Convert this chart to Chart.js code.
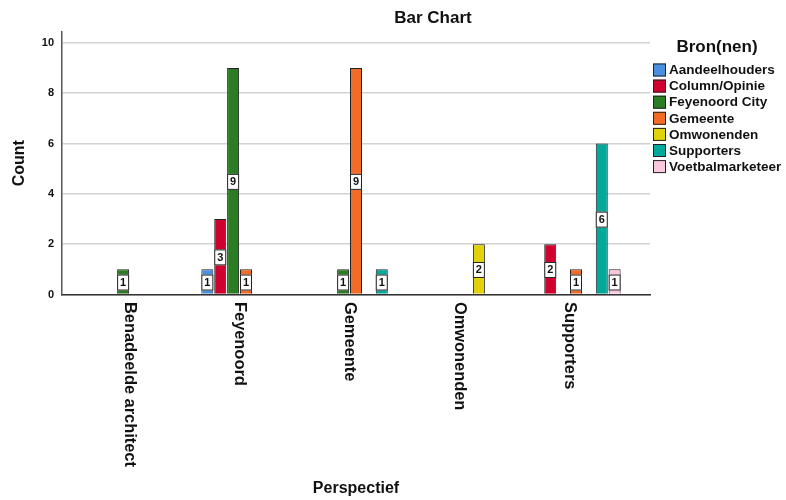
<!DOCTYPE html>
<html>
<head>
<meta charset="utf-8">
<script src="https://cdn.jsdelivr.net/npm/chart.js@4.4.1/dist/chart.umd.min.js"></script>
<style>
  html, body { margin: 0; padding: 0; background: #fff; }
  #wrap { width: 786px; height: 500px; }
</style>
</head>
<body>
<div id="wrap"><canvas id="chart" width="786" height="500"></canvas></div>
<script>
const categories = ["Benadeelde architect", "Feyenoord", "Gemeente", "Omwonenden", "Supporters"];
const seriesNames = ["Aandeelhouders", "Column/Opinie", "Feyenoord City", "Gemeente", "Omwonenden", "Supporters", "Voetbalmarketeer"];

// counts per perspectief, null = no bar
const aandeelhouders = [null, 1, null, null, null];
const columnOpinie = [null, 3, null, null, 2];
const feyenoordCity = [1, 9, 1, null, null];
const gemeente = [null, 1, 9, null, 1];
const omwonenden = [null, null, null, 2, null];
const supporters = [null, null, 1, null, 6];
const voetbalmarketeer = [null, null, null, null, 1];

const seriesValues = [aandeelhouders, columnOpinie, feyenoordCity, gemeente, omwonenden, supporters, voetbalmarketeer];
const seriesColors = ["#4A90E2", "#D0002F", "#2A7D22", "#F26B27", "#E2D20C", "#00A99C", "#FBC6DE"];
const yTicks = [0, 2, 4, 6, 8, 10];

const FONT = "'Liberation Sans', Arial, sans-serif";
const canvas = document.getElementById("chart");
const ctx = canvas.getContext("2d");

const datasets = seriesNames.map((naam, s) => ({
  label: naam,
  data: seriesValues[s].map((v, i) => ({ x: i, y: v })),
  backgroundColor: seriesColors[s],
  borderColor: "#222",
  borderWidth: 1,
  categoryPercentage: 0.82,
  barPercentage: 0.93,
}));

// waarde labels, titel, as labels en legenda
const extraTekst = {
  id: "extraTekst",
  afterDatasetsDraw(chart) {
    const c = chart.ctx;
    c.save();
    chart.data.datasets.forEach((ds, d) => {
      const meta = chart.getDatasetMeta(d);
      meta.data.forEach((bar, i) => {
        const v = ds.data[i].y;
        if (v === null) return;
        const w = bar.width;
        const h = 16;
        const cy = (bar.y + bar.base) / 2 + 1;
        c.fillStyle = "#fff";
        c.strokeStyle = "#222";
        c.lineWidth = 1;
        c.fillRect(bar.x - w / 2, cy - h / 2, w, h);
        c.strokeRect(bar.x - w / 2 + 0.5, cy - h / 2 + 0.5, w - 1, h - 1);
        c.fillStyle = "#111";
        c.font = "bold 11px " + FONT;
        c.textAlign = "center";
        c.textBaseline = "middle";
        c.fillText(String(v), bar.x, cy + 0.5);
      });
    });
    c.restore();
  },
  afterDraw(chart) {
    const c = chart.ctx;
    const xs = chart.scales.x;
    c.save();
    c.fillStyle = "#111";

    c.font = "bold 17px " + FONT;
    c.textAlign = "center";
    c.textBaseline = "middle";
    c.fillText("Bar Chart", 433, 18);

    // x labels, van boven naar beneden
    c.font = "bold 16.4px " + FONT;
    categories.forEach((cat, i) => {
      const px = xs.getPixelForValue(i);
      c.save();
      c.translate(px - 6, 302);
      c.rotate(Math.PI / 2);
      c.textAlign = "left";
      c.textBaseline = "middle";
      c.fillText(cat, 0, 0);
      c.restore();
    });

    // legenda
    c.font = "bold 17px " + FONT;
    c.textAlign = "center";
    c.textBaseline = "middle";
    c.fillText("Bron(nen)", 717, 47);
    c.font = "bold 13.5px " + FONT;
    c.textAlign = "left";
    seriesNames.forEach((naam, s) => {
      const y = 70 + s * 16.1;
      c.fillStyle = seriesColors[s];
      c.fillRect(653, y - 6.5, 13, 13);
      c.strokeStyle = "#222";
      c.lineWidth = 1;
      c.strokeRect(653.5, y - 6, 12, 12);
      c.fillStyle = "#111";
      c.fillText(naam, 669, y + 0.5);
    });
    c.restore();
  },
};

const chart = new Chart(ctx, {
  type: "bar",
  data: { datasets: datasets },
  options: {
    responsive: false,
    animation: false,
    layout: { padding: { top: 32, right: 136, left: 0, bottom: 0 } },
    plugins: {
      legend: { display: false },
      tooltip: { enabled: false },
      title: { display: false },
    },
    scales: {
      x: {
        type: "linear",
        offset: false,
        bounds: "data",
        min: -0.6727,
        max: 4.6727,
        afterBuildTicks: (s) => { s.ticks = categories.map((c, i) => ({ value: i })); },
        afterFit: (s) => { s.height = 205.5; },
        grid: { display: false, offset: false },
        border: { color: "#333", width: 1.5 },
        ticks: { display: false },
        title: {
          display: true,
          text: "Perspectief",
          color: "#111",
          font: { family: FONT, size: 16, weight: "bold" },
          padding: { top: 0, bottom: 1.5 },
        },
      },
      y: {
        min: 0,
        max: 10.43,
        afterBuildTicks: (s) => { s.ticks = yTicks.map((v) => ({ value: v })); },
        afterFit: (s) => { s.width = 62; },
        grid: { color: "#d2d2d2", lineWidth: 1.5, drawTicks: false },
        border: { color: "#555", width: 1.5 },
        ticks: {
          padding: 8,
          color: "#111",
          font: { family: FONT, size: 11, weight: "bold" },
        },
        title: {
          display: true,
          text: "Count",
          color: "#111",
          font: { family: FONT, size: 16, weight: "bold" },
          padding: { top: 9.5, bottom: 0 },
        },
      },
    },
  },
  plugins: [extraTekst],
});
</script>
</body>
</html>
